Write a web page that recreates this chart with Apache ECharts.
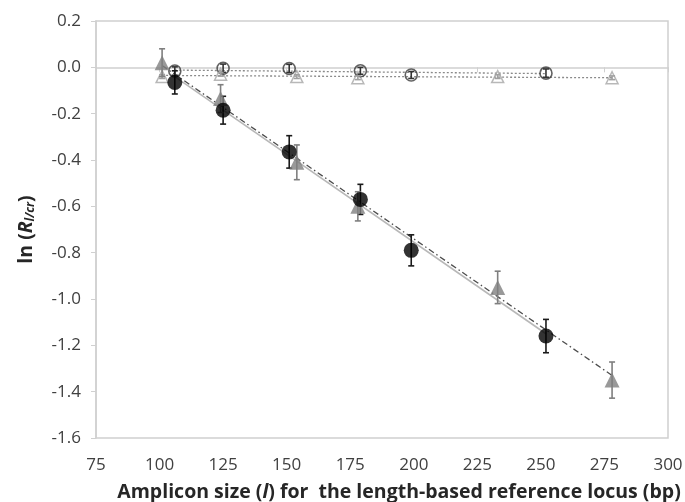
<!DOCTYPE html>
<html>
<head>
<meta charset="utf-8">
<script src="https://cdn.jsdelivr.net/npm/echarts@6/dist/echarts.min.js"></script>
<style>
    html, body { margin: 0; padding: 0; background: #fff; }
    #chart { width: 685px; height: 502px; }
</style>
</head>
<body>
<div id="chart"></div>
<script>
// amplicon sizes (bp)
const sizeCircle = [106, 125, 151, 179, 199, 252];
const sizeTriangle = [101, 124, 154, 178, 233, 278];

// ln(R) values
const lnFilledCircle = [-0.065, -0.185, -0.365, -0.57, -0.79, -1.16];
const errFilledCircle = [0.05, 0.06, 0.07, 0.065, 0.067, 0.072];
const lnOpenCircle = [-0.016, -0.004, -0.005, -0.015, -0.033, -0.025];
const errOpenCircle = [0.018, 0.018, 0.018, 0.015, 0.015, 0.018];
const lnFilledTriangle = [0.02, -0.135, -0.41, -0.60, -0.95, -1.35];
const errFilledTriangle = [0.06, 0.06, 0.075, 0.063, 0.07, 0.078];
const lnOpenTriangle = [-0.04, -0.03, -0.04, -0.045, -0.04, -0.045];
const errOpenTriangle = [0.008, 0.008, 0.008, 0.008, 0.008, 0.008];

// trend line end points
const fitFilledCircle = [[106, -0.04], [252, -1.15]];
const fitFilledTriangle = [[101, 0.008], [278, -1.33]];
const fitOpenCircle = [[106, -0.012], [252, -0.027]];
const fitOpenTriangle = [[101, -0.035], [278, -0.045]];

const pairs = (xs, ys) => xs.map((x, i) => [x, ys[i]]);
const bars = (xs, ys, es) => xs.map((x, i) => [x, ys[i] - es[i], ys[i] + es[i]]);

// error bars with caps
function errorBar(xs, ys, es, color) {
    return {
        type: 'custom',
        z: 4,
        silent: true,
        data: bars(xs, ys, es),
        renderItem(params, api) {
            const lo = api.coord([api.value(0), api.value(1)]);
            const hi = api.coord([api.value(0), api.value(2)]);
            const w = 3;
            const style = { stroke: color, lineWidth: 1.6 };
            return {
                type: 'group',
                children: [
                    { type: 'line', shape: { x1: lo[0], y1: lo[1], x2: hi[0], y2: hi[1] }, style },
                    { type: 'line', shape: { x1: lo[0] - w, y1: lo[1], x2: lo[0] + w, y2: lo[1] }, style },
                    { type: 'line', shape: { x1: hi[0] - w, y1: hi[1], x2: hi[0] + w, y2: hi[1] }, style },
                ],
            };
        },
    };
}

function fitLine(pts, color, type, width) {
    return {
        type: 'line',
        data: pts,
        symbol: 'none',
        z: 2,
        lineStyle: { color, type, width },
    };
}

const titleRich = {
    b: { fontSize: 19.5, fontWeight: 'bold', color: '#262626', fontFamily: 'Open Sans' },
    i: { fontSize: 19.5, fontWeight: 'bold', fontStyle: 'italic', color: '#262626', fontFamily: 'Open Sans' },
    s: { fontSize: 12, fontWeight: 'bold', fontStyle: 'italic', color: '#262626', fontFamily: 'Open Sans', padding: [10, 0, 0, 0] },
};

const chart = echarts.init(document.getElementById('chart'), null, { renderer: 'canvas' });

const option = {
    animation: false,
    textStyle: { fontFamily: 'Open Sans' },
    grid: {
        left: 96, right: 17, top: 21, bottom: 64,
        outerBoundsMode: 'none',
        show: true, borderColor: '#d0d0d0', borderWidth: 1.5,
    },
    xAxis: {
        type: 'value',
        min: 75,
        max: 300,
        interval: 25,
        axisLine: { show: true, lineStyle: { color: '#d0d0d0', width: 1.5 } },
        axisTick: { show: true, length: 5, lineStyle: { color: '#d0d0d0' } },
        splitLine: { show: false },
        axisLabel: {
            color: '#404040',
            fontSize: 17,
            margin: 19,
        },
        name: '{b|Amplicon size (}{i|l}{b|) for  the length-based reference locus (bp)}',
        nameLocation: 'middle',
        nameGap: 44,
        nameTextStyle: { rich: titleRich, padding: [0, 0, 0, 34] },
    },
    yAxis: {
        type: 'value',
        min: -1.6,
        max: 0.2,
        interval: 0.2,
        axisLine: { show: true, lineStyle: { color: '#d0d0d0', width: 1.5 } },
        axisTick: { show: true, length: 5, lineStyle: { color: '#d0d0d0' } },
        splitLine: { show: false },
        axisLabel: {
            color: '#404040',
            fontSize: 17,
            margin: 15,
            formatter: v => v.toFixed(1),
        },
        name: '{b|ln (}{i|R}{s|l/cr}{b|)}',
        nameLocation: 'middle',
        nameRotate: 90,
        nameGap: 59,
        nameTextStyle: { rich: titleRich },
    },
    series: [
        fitLine(fitFilledCircle, '#b8b8b8', 'solid', 1.6),
        fitLine(fitFilledTriangle, '#4d4d4d', [6, 3, 1.5, 3], 1.3),
        fitLine(fitOpenCircle, '#8a8a8a', [2, 2], 1.3),
        fitLine(fitOpenTriangle, '#8a8a8a', [2, 2], 1.3),
        errorBar(sizeCircle, lnOpenCircle, errOpenCircle, '#333333'),
        errorBar(sizeTriangle, lnOpenTriangle, errOpenTriangle, '#a0a0a0'),
        errorBar(sizeCircle, lnFilledCircle, errFilledCircle, '#1a1a1a'),
        errorBar(sizeTriangle, lnFilledTriangle, errFilledTriangle, '#7f7f7f'),
        {
            type: 'scatter',
            data: pairs(sizeTriangle, lnOpenTriangle),
            symbol: 'triangle',
            symbolSize: 12,
            z: 3,
            itemStyle: { color: 'rgba(255,255,255,0)', borderColor: '#a6a6a6', borderWidth: 1.5 },
        },
        {
            type: 'scatter',
            data: pairs(sizeCircle, lnOpenCircle),
            symbol: 'circle',
            symbolSize: 12,
            z: 3,
            itemStyle: { color: 'rgba(255,255,255,0)', borderColor: '#3a3a3a', borderWidth: 1.6 },
        },
        {
            type: 'scatter',
            data: pairs(sizeTriangle, lnFilledTriangle),
            symbol: 'triangle',
            symbolSize: 15,
            z: 5,
            itemStyle: { color: '#7f7f7f' },
        },
        {
            type: 'scatter',
            data: pairs(sizeCircle, lnFilledCircle),
            symbol: 'circle',
            symbolSize: 15,
            z: 5,
            itemStyle: { color: '#000000' },
        },
    ],
};

chart.setOption(option);
window.addEventListener('resize', () => {
    chart.resize();
});
</script>
</body>
</html>
